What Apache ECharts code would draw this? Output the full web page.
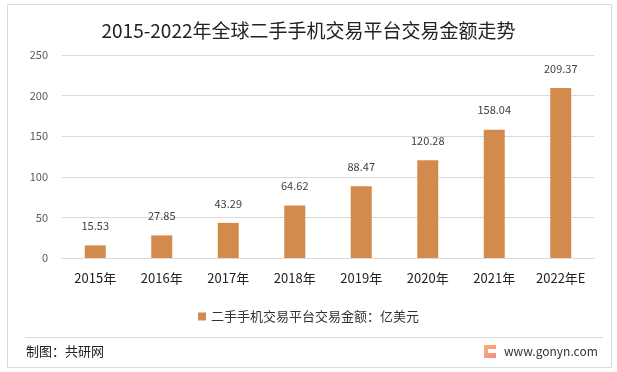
<!DOCTYPE html>
<html><head><meta charset="utf-8">
<script src="https://cdn.jsdelivr.net/npm/echarts@6/dist/echarts.min.js"></script>
<style>html,body{margin:0;padding:0;background:#fff}#c{width:617px;height:372px}</style>
</head><body><div id="c"></div>
<script>
const categories = ['2015年','2016年','2017年','2018年','2019年','2020年','2021年','2022年E'];
const values = [15.53, 27.85, 43.29, 64.62, 88.47, 120.28, 158.04, 209.37];
const seriesName = '二手手机交易平台交易金额：亿美元';
const titleText = '2015-2022年全球二手手机交易平台交易金额走势';
const font = '"Noto Sans CJK SC", "Microsoft YaHei", sans-serif';
const chart = echarts.init(document.getElementById('c'));
chart.setOption({
  animation: false,
  title: { text: titleText, left: 'center', top: 16, textStyle: { fontFamily: font, fontSize: 19, fontWeight: 'normal', color: '#222' } },
  legend: { bottom: 44, left: 'center', itemWidth: 8, itemHeight: 8, itemGap: 6, icon: 'rect',
    textStyle: { fontFamily: font, fontSize: 13, color: '#333' }, data: [seriesName] },
  grid: { left: 62, right: 23, top: 55, bottom: 114, containLabel: false },
  xAxis: { type: 'category', data: categories,
    axisLine: { lineStyle: { color: '#d9d9d9' } }, axisTick: { show: false },
    axisLabel: { fontFamily: font, fontSize: 13, color: '#222', margin: 14 } },
  yAxis: { type: 'value', min: 0, max: 250, interval: 50,
    axisLine: { show: false }, axisTick: { show: false },
    splitLine: { lineStyle: { color: '#d9d9d9' } },
    axisLabel: { fontFamily: font, fontSize: 11, color: '#595959', margin: 14 } },
  series: [{ name: seriesName, type: 'bar', data: values, barWidth: 21,
    itemStyle: { color: '#D38B4D' },
    label: { show: true, position: 'top', distance: 14, fontFamily: font, fontSize: 11, color: '#404040',
      formatter: p => p.value.toFixed(2) } }],
  graphic: [
    { type: 'rect', shape: { x: 7.5, y: 4.5, width: 604, height: 363 }, style: { fill: 'none', stroke: '#d9d9d9', lineWidth: 1 }, silent: true },
    { type: 'line', shape: { x1: 25, y1: 337.5, x2: 603, y2: 337.5 }, style: { stroke: '#d9d9d9', lineWidth: 1 } },
    { type: 'text', left: 26, top: 345, style: { text: '制图：共研网', fontFamily: font, fontSize: 13, fill: '#222' } },
    { type: 'text', left: 504, top: 345, style: { text: 'www.gonyn.com', fontFamily: font, fontSize: 12, fill: '#333' } },
    { type: 'rect', shape: { x: 484, y: 345, width: 12, height: 13 },
      style: { fill: new echarts.graphic.LinearGradient(0, 0, 1, 1, [{ offset: 0, color: '#F9B46B' }, { offset: 1, color: '#F48A8A' }]) } },
    { type: 'rect', shape: { x: 488, y: 349, width: 8, height: 4 }, style: { fill: '#fff' } }
  ]
});
</script></body></html>
